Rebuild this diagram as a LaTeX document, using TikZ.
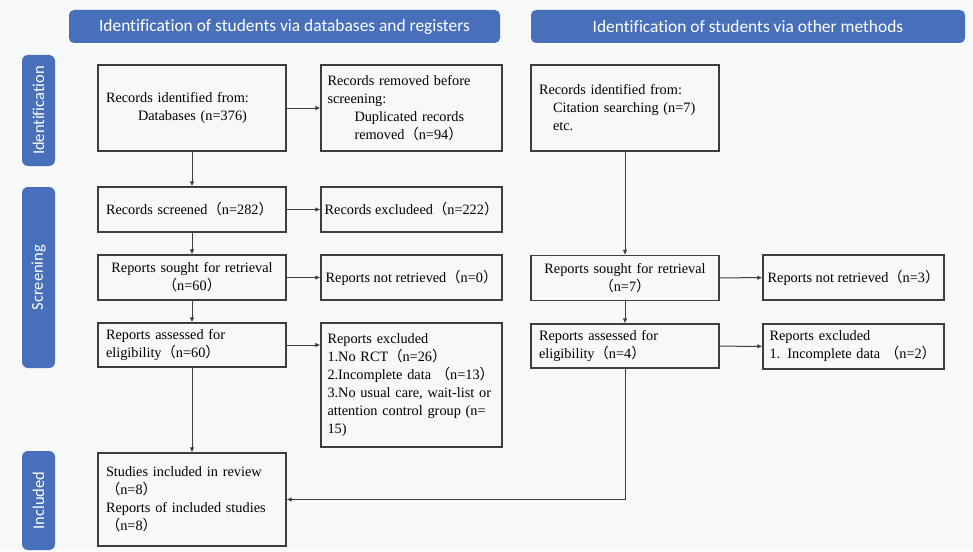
\documentclass[tikz,border=0pt]{standalone}
\usepackage{fontspec}
\setmainfont{Liberation Serif}
\newfontfamily\headfont[Ligatures=NoCommon]{Carlito}
\newfontfamily\cjk{Noto Sans CJK SC}
\usetikzlibrary{arrows.meta}
\definecolor{bandblue}{RGB}{72,112,186}
\definecolor{boxline}{RGB}{62,62,62}
\definecolor{pagebg}{RGB}{247,248,250}
\newcommand{\lp}{{\cjk （}}
\newcommand{\rp}{{\cjk ）}}
\tikzset{
  box/.style={draw=boxline, line width=1.1pt, inner xsep=8pt, inner ysep=0pt,
    font=\fontsize{14.3}{18}\selectfont, align=left},
  lw/.style={text width=172pt},
  sw/.style={text width=168pt, inner xsep=6.5pt},
  mw/.style={minimum width=181pt, inner xsep=1pt, align=center},
  head/.style={fill=bandblue, rounded corners=5pt, text=white, minimum height=33pt,
    font=\headfont\fontsize{17.4}{19}\selectfont},
  side/.style={fill=bandblue, rounded corners=6pt, text=white, rotate=90,
    minimum height=33pt, font=\headfont\fontsize{16.5}{18}\selectfont},
  arr/.style={draw=boxline, line width=1pt, -{Latex[length=5pt,width=4.5pt]}}
}
\begin{document}
\begin{tikzpicture}[x=1pt, y=-1pt]
    \fill[pagebg] (0,0) rectangle (973,551);
    \useasboundingbox (0,0) rectangle (973,551);
    % headers and phases
    \node[head, minimum width=431pt] (headDb) at (284.5,26.5) {Identification of students via databases and registers};
    \node[head, minimum width=434pt] (headOth) at (748,26.5) {Identification of students via other methods};
    \node[side, minimum width=111pt] (phaseId) at (38.5,110.5) {Identification};
    \node[side, minimum width=181pt] (phaseScr) at (38.5,277.5) {Screening};
    \node[side, minimum width=99pt] (phaseIncl) at (38.5,500.5) {Included};
    % databases and registers
    \node[box, lw, minimum height=86pt] (idDb) at (192,108) {Records identified from:\\\hspace*{32pt}Databases (n=376)};
    \node[box, sw, minimum height=86pt] (idRm) at (411.5,108) {Records removed before\\screening:\\\hspace*{27pt}Duplicated records\\\hspace*{27pt}removed\lp n=94\rp};
    \node[box, lw, minimum height=45pt] (scr) at (192,209.5) {Records screened\lp n=282\rp};
    \node[box, mw, minimum height=45pt] (scrEx) at (411.5,209.5) {Records excludeed\lp n=222\rp};
    \node[box, lw, align=center, minimum height=45pt] (sought) at (192,277.5) {Reports sought for retrieval\\\lp n=60\rp};
    \node[box, mw, minimum height=45pt] (notRet) at (411.5,277.5) {Reports not retrieved\lp n=0\rp};
    \node[box, lw, minimum height=44pt] (assess) at (192,345) {Reports assessed for\\eligibility\lp n=60\rp};
    \node[box, sw, minimum height=124pt] (rptEx) at (411.5,385) {Reports excluded\\1.No RCT\lp n=26\rp\\2.Incomplete data \lp n=13\rp\\3.No usual care, wait-list or\\attention control group (n=\\15)};
    \node[box, lw, minimum height=93pt] (incl) at (192,499.5) {Studies included in review\\\lp n=8\rp\\Reports of included studies\\\lp n=8\rp};
    % other methods
    \node[box, lw, minimum height=86pt] (othId) at (625,108) {Records identified from:\\\hspace*{14pt}Citation searching (n=7)\\\hspace*{14pt}etc.};
    \node[box, lw, align=center, minimum height=45pt] (othSought) at (625,278) {Reports sought for retrieval\\\lp n=7\rp};
    \node[box, mw, minimum height=45pt] (othNotRet) at (853.5,277.5) {Reports not retrieved\lp n=3\rp};
    \node[box, lw, minimum height=44pt] (othAssess) at (625,346) {Reports assessed for\\eligibility\lp n=4\rp};
    \node[box, sw, minimum height=45pt] (othEx) at (853.5,346.5) {Reports excluded\\1. Incomplete data \lp n=2\rp};
    % arrows
    \draw[arr] (idDb) -- (idRm);
    \draw[arr] (idDb) -- (scr);
    \draw[arr] (scr) -- (scrEx);
    \draw[arr] (scr) -- (sought);
    \draw[arr] (sought) -- (notRet);
    \draw[arr] (sought) -- (assess);
    \draw[arr] (assess.east) -- (assess.east -| rptEx.west);
    \draw[arr] (assess) -- (incl);
    \draw[arr] (othId) -- (othSought);
    \draw[arr] (othSought) -- (othNotRet);
    \draw[arr] (othSought) -- (othAssess);
    \draw[arr] (othAssess) -- (othEx);
    \draw[arr] (othAssess.south) |- (incl.east);
\end{tikzpicture}
\end{document}
